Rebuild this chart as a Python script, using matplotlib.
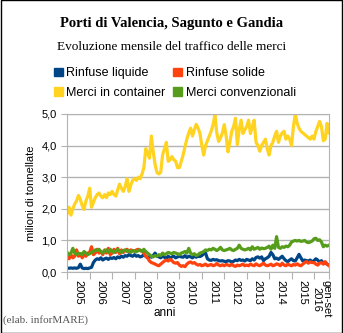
# -*- coding: utf-8 -*-

import matplotlib.pyplot as plt
from matplotlib.patches import Patch
import numpy as np

# monthly values, gen 2005 - set 2016 (milioni di tonnellate)
liquide = [0.13, 0.12, 0.13, 0.12, 0.13, 0.12, 0.14, 0.25, 0.13, 0.11, 0.12, 0.11,
           0.13, 0.15, 0.30, 0.38, 0.42, 0.40, 0.45, 0.38, 0.42, 0.44, 0.40, 0.45,
           0.43, 0.46, 0.42, 0.48, 0.45, 0.50, 0.47, 0.52, 0.50, 0.55, 0.52, 0.50,
           0.55, 0.50, 0.52, 0.48, 0.50, 0.55, 0.50, 0.45, 0.50, 0.47, 0.52, 0.60,
           0.50, 0.48, 0.45, 0.50, 0.47, 0.43, 0.50, 0.45, 0.48, 0.50, 0.45, 0.48,
           0.50, 0.48, 0.47, 0.52, 0.46, 0.50, 0.48, 0.45, 0.50, 0.47, 0.50, 0.49,
           0.52, 0.58, 0.60, 0.42, 0.38, 0.37, 0.40, 0.38, 0.39, 0.36, 0.35, 0.36,
           0.34, 0.33, 0.36, 0.35, 0.32, 0.34, 0.38, 0.36, 0.40, 0.37, 0.38, 0.35,
           0.40, 0.38, 0.36, 0.42, 0.38, 0.46, 0.48, 0.44, 0.48, 0.36, 0.42, 0.45,
           0.50, 0.62, 0.55, 0.42, 0.44, 0.40, 0.45, 0.50, 0.42, 0.36, 0.33, 0.38,
           0.42, 0.36, 0.35, 0.45, 0.56, 0.45, 0.35, 0.38, 0.36, 0.35, 0.38, 0.32,
           0.36, 0.42, 0.38, 0.30, 0.36, 0.28, 0.30, 0.25, 0.22]

solide = [0.48, 0.42, 0.55, 0.45, 0.50, 0.70, 0.50, 0.58, 0.45, 0.55, 0.50, 0.60,
          0.62, 0.80, 0.55, 0.60, 0.72, 0.60, 0.65, 0.55, 0.70, 0.60, 0.75, 0.55,
          0.60, 0.72, 0.62, 0.75, 0.58, 0.70, 0.62, 0.68, 0.72, 0.65, 0.70, 0.68,
          0.66, 0.70, 0.72, 0.68, 0.66, 0.60, 0.50, 0.45, 0.35, 0.30, 0.28, 0.25,
          0.22, 0.20, 0.25, 0.30, 0.35, 0.38, 0.35, 0.40, 0.36, 0.30, 0.28, 0.30,
          0.22, 0.18, 0.20, 0.17, 0.25, 0.30, 0.32, 0.28, 0.30, 0.25, 0.22, 0.24,
          0.20, 0.22, 0.25, 0.20, 0.22, 0.24, 0.20, 0.22, 0.27, 0.22, 0.20, 0.23,
          0.20, 0.24, 0.22, 0.20, 0.25, 0.20, 0.18, 0.22, 0.20, 0.22, 0.25, 0.20,
          0.22, 0.20, 0.25, 0.22, 0.20, 0.26, 0.22, 0.20, 0.24, 0.28, 0.22, 0.20,
          0.22, 0.25, 0.20, 0.22, 0.26, 0.24, 0.20, 0.28, 0.22, 0.20, 0.25, 0.22,
          0.20, 0.24, 0.22, 0.26, 0.22, 0.20, 0.25, 0.30, 0.33, 0.28, 0.32, 0.30,
          0.30, 0.25, 0.22, 0.28, 0.30, 0.25, 0.33, 0.25, 0.20]

container = [1.85, 2.05, 1.80, 2.00, 2.15, 2.25, 2.42, 2.30, 2.10, 1.98, 2.25, 2.40,
             2.65, 2.05, 2.20, 2.35, 2.45, 2.50, 2.40, 2.35, 2.45, 2.35, 2.50, 2.45,
             2.55, 2.45, 2.40, 2.60, 2.78, 2.65, 2.55, 2.70, 2.95, 2.55, 2.75, 2.90,
             2.95, 2.90, 3.00, 2.95, 3.10, 3.30, 3.90, 3.75, 3.60, 4.30, 3.80, 3.40,
             3.15, 3.10, 3.15, 3.70, 3.90, 4.10, 3.50, 3.55, 3.65, 3.55, 3.50, 3.30,
             3.30, 3.50, 3.70, 3.97, 4.20, 4.40, 4.55, 4.30, 4.50, 4.67, 4.55, 4.38,
             4.00, 3.70, 4.00, 4.15, 4.30, 4.45, 4.66, 4.97, 4.40, 4.13, 4.24, 4.40,
             4.66, 4.30, 3.80, 4.10, 4.45, 4.60, 4.86, 4.03, 4.50, 4.80, 4.38, 4.50,
             4.60, 4.80, 4.38, 4.60, 4.80, 4.10, 4.00, 3.82, 4.00, 4.10, 4.20, 3.90,
             3.70, 4.00, 4.10, 4.30, 4.45, 4.10, 4.30, 4.40, 4.45, 4.20, 4.30, 4.20,
             4.00, 4.60, 5.00, 4.70, 4.55, 4.45, 4.40, 4.35, 4.30, 4.25, 4.20, 4.30,
             4.20, 4.45, 4.60, 4.76, 4.60, 4.15, 4.20, 4.70, 4.40]

convenzionali = [0.62, 0.55, 0.60, 0.75, 0.60, 0.55, 0.60, 0.58, 0.55, 0.65, 0.60, 0.55,
                 0.58, 0.62, 0.65, 0.70, 0.68, 0.72, 0.65, 0.60, 0.68, 0.70, 0.62, 0.72,
                 0.65, 0.62, 0.68, 0.72, 0.65, 0.62, 0.68, 0.70, 0.65, 0.68, 0.62, 0.68,
                 0.66, 0.64, 0.68, 0.70, 0.65, 0.72, 0.65, 0.60, 0.55, 0.50, 0.48, 0.52,
                 0.50, 0.55, 0.52, 0.60, 0.55, 0.58, 0.62, 0.60, 0.58, 0.62, 0.60, 0.58,
                 0.55, 0.60, 0.62, 0.65, 0.60, 0.75, 0.60, 0.55, 0.58, 0.52, 0.55, 0.60,
                 0.62, 0.65, 0.70, 0.68, 0.72, 0.70, 0.75, 0.72, 0.68, 0.72, 0.78, 0.70,
                 0.68, 0.70, 0.72, 0.75, 0.70, 0.68, 0.72, 0.75, 0.85, 0.75, 0.72, 0.70,
                 0.72, 0.75, 0.70, 0.80, 0.72, 0.75, 0.78, 0.72, 0.76, 0.74, 0.75, 0.78,
                 0.82, 0.72, 0.85, 0.75, 1.12, 0.78, 0.75, 0.80, 0.78, 0.82, 0.80, 0.85,
                 0.95, 0.98, 1.00, 0.98, 1.00, 0.97, 0.98, 1.00, 0.95, 0.93, 0.95, 0.98,
                 1.05, 1.07, 1.00, 1.02, 0.95, 0.80, 0.85, 0.82, 0.85]

anni = ['2005', '2006', '2007', '2008', '2009', '2010', '2011', '2012',
        '2013', '2014', '2015', 'gen-set\n2016']
serie = ['Rinfuse liquide', 'Rinfuse solide', 'Merci in container', 'Merci convenzionali']
colori = ['#004586', '#ff420e', '#ffd320', '#579d1c']

fig = plt.figure(figsize=(3.43, 3.33), dpi=100)
ax = fig.add_axes([0.196, 0.183, 0.763, 0.475])

x = np.arange(len(container))
for vals, col in zip([liquide, solide, container, convenzionali], colori):
    ax.plot(x, vals, color=col, lw=2.3, solid_joinstyle='round')

ax.set_xlim(0, len(container) - 1)
ax.set_ylim(0, 5)
yt = np.arange(0, 5.1, 1)
ax.set_yticks(yt)
ax.set_yticklabels([('%.1f' % v).replace('.', ',') for v in yt], fontsize=8,
                   family='Liberation Sans')
ax.yaxis.grid(True, color='#b3b3b3', lw=1)
ax.set_axisbelow(True)
for s in ax.spines.values():
    s.set_color('#b3b3b3')

ax.set_xticks(list(range(0, 133, 12)) + [len(container) - 1])
ax.set_xticklabels([])
ax.tick_params(axis='x', which='major', length=5, color='#b3b3b3')
ax.tick_params(axis='y', length=4, color='#b3b3b3')
ax.set_xticks([6 + 12 * i for i in range(11)] + [136], minor=True)
ax.set_xticklabels(anni, minor=True, rotation=-90, fontsize=8,
                   family='Liberation Sans', va='top', linespacing=0.9)
ax.tick_params(axis='x', which='minor', length=0, pad=6)

ax.set_ylabel('milioni di tonnellate', fontsize=8, family='Liberation Sans')
ax.yaxis.set_label_coords(-0.12, 0.5)
fig.text(165 / 343, 1 - 313 / 333, 'anni', ha='center', va='center', fontsize=8.5,
         family='Liberation Sans')

fig.text(0.5, 1 - 24 / 333, 'Porti di Valencia, Sagunto e Gandia', ha='center', va='center',
         fontsize=10.5, fontweight='bold', family='Liberation Serif')
fig.text(0.5, 1 - 47 / 333, 'Evoluzione mensile del traffico delle merci', ha='center',
         va='center', fontsize=9.5, family='Liberation Serif')

# legend filled row by row, like the original
ordine = [0, 2, 1, 3]
handles = [Patch(color=colori[i]) for i in ordine]
fig.legend(handles, [serie[i] for i in ordine], ncol=2, loc='center',
           bbox_to_anchor=(0.51, 1 - 83 / 333), frameon=False,
           prop={'family': 'Liberation Sans', 'size': 9},
           handlelength=0.7, handleheight=0.7, handletextpad=0.3, columnspacing=0.6,
           labelspacing=0.6)

fig.text(0.01, 0.025, '(elab. inforMARE)', fontsize=8, color='#555555',
         family='Liberation Serif', va='bottom')

fig.patches.append(plt.Rectangle((0.0015, 0.0015), 0.997, 0.997, transform=fig.transFigure,
                                 fill=False, edgecolor='black', lw=1))

plt.savefig('out.png', dpi=100)
plt.close()
